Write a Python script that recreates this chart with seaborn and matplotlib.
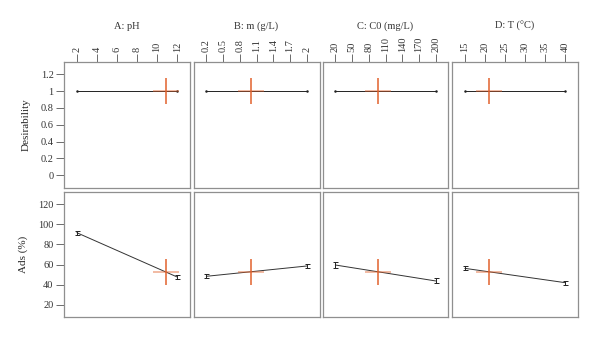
import numpy as np
import pandas as pd
import matplotlib
matplotlib.use("Agg")
import matplotlib.pyplot as plt
import seaborn as sns

# ---- data ----
factor_titles = ["A: pH", "B: m (g/L)", "C: C0 (mg/L)", "D: T (°C)"]
factor_low = [2, 0.2, 20, 15]
factor_high = [12, 2, 200, 40]
factor_optimum = [10.84, 1.0, 96.6, 21.1]
x_ticks = [
    [2, 4, 6, 8, 10, 12],
    [0.2, 0.5, 0.8, 1.1, 1.4, 1.7, 2],
    [20, 50, 80, 110, 140, 170, 200],
    [15, 20, 25, 30, 35, 40],
]
x_ticklabels = [
    ["2", "4", "6", "8", "10", "12"],
    ["0.2", "0.5", "0.8", "1.1", "1.4", "1.7", "2"],
    ["20", "50", "80", "110", "140", "170", "200"],
    ["15", "20", "25", "30", "35", "40"],
]
desirability_low = [1, 1, 1, 1]
desirability_high = [1, 1, 1, 1]
desirability_opt = 1.0
ads_low = [91.6, 48.4, 59.6, 56.3]
ads_high = [47.7, 58.6, 43.8, 42.1]
ads_err = [2.0, 2.0, 2.5, 2.0]
ads_opt = 52.8
des_ticks = [0, 0.2, 0.4, 0.6, 0.8, 1, 1.2]
des_ticklabels = ["0", "0.2", "0.4", "0.6", "0.8", "1", "1.2"]
ads_ticks = [20, 40, 60, 80, 100, 120]

sns.set_theme(style="ticks")
plt.rcParams["font.family"] = ["Liberation Serif", "DejaVu Serif"]
plt.rcParams["text.color"] = "#333333"

W, H = 600, 339
fig = plt.figure(figsize=(6, 3.39), dpi=100)

col_x = [64, 193.5, 322.5, 452]
col_w = 126
rows = [(62, 187.5), (192, 317)]

cross_col = "#E2622C"
fs_tick = 7.5

for i in range(4):
    lo, hi = factor_low[i], factor_high[i]
    span = hi - lo
    pad = span * 0.1275
    for r, (top, bot) in enumerate(rows):
        ax = fig.add_axes([col_x[i] / W, 1 - bot / H, col_w / W, (bot - top) / H])
        ax.set_xlim(lo - pad, hi + pad)
        for s in ax.spines.values():
            s.set_color("#8f8f8f")
            s.set_linewidth(0.9)
        ax.tick_params(colors="#333333", labelsize=fs_tick, length=5.5, width=0.6,
                       direction="out", color="#555555", pad=2)
        if r == 0:
            df = pd.DataFrame({"x": [lo, hi], "y": [desirability_low[i], desirability_high[i]]})
            sns.lineplot(data=df, x="x", y="y", ax=ax, color="#222222", lw=0.7,
                         marker="o", markersize=1.8, markeredgewidth=0)
            ax.set_ylim(-0.146, 1.346)
            ax.set_yticks(des_ticks)
            ax.plot([factor_optimum[i]], [desirability_opt], marker="|", ms=19,
                    mew=1.1, color=cross_col, ls="none")
            ax.plot([factor_optimum[i]], [desirability_opt], marker="_", ms=19,
                    mew=1.1, color=cross_col, alpha=0.55, ls="none")
            ax.xaxis.tick_top()
            ax.tick_params(axis="x", top=True, bottom=False, labeltop=True, labelbottom=False)
            ax.set_xticks(x_ticks[i])
            ax.set_xticklabels(x_ticklabels[i], rotation=90)
            ax.set_xlabel("")
            ax.set_ylabel("")
            if i == 0:
                ax.set_yticklabels(des_ticklabels)
                ax.tick_params(axis="y", left=True, labelleft=True)
                ax.set_ylabel("Desirability", fontsize=8, labelpad=7)
            else:
                ax.tick_params(axis="y", left=False, labelleft=False)
            ax.text(0.5, 1.0 + 36 / 126, factor_titles[i], transform=ax.transAxes,
                    ha="center", va="center", fontsize=7.5)
        else:
            df = pd.DataFrame({"x": [lo, hi], "y": [ads_low[i], ads_high[i]]})
            sns.lineplot(data=df, x="x", y="y", ax=ax, color="#333333", lw=0.7)
            ax.errorbar(df["x"], df["y"], yerr=ads_err[i], fmt="none",
                        ecolor="#222222", elinewidth=0.7, capsize=1.8, capthick=0.7)
            ax.set_ylim(8.1, 131.9)
            ax.set_yticks(ads_ticks)
            ax.plot([factor_optimum[i]], [ads_opt], marker="|", ms=19,
                    mew=1.1, color=cross_col, ls="none")
            ax.plot([factor_optimum[i]], [ads_opt], marker="_", ms=19,
                    mew=1.1, color=cross_col, alpha=0.55, ls="none")
            ax.set_xticks([])
            ax.set_xlabel("")
            ax.set_ylabel("")
            if i == 0:
                ax.tick_params(axis="y", left=True, labelleft=True)
                ax.set_ylabel("Ads (%)", fontsize=8, labelpad=7)
            else:
                ax.tick_params(axis="y", left=False, labelleft=False)

fig.savefig("out.png", dpi=100)
